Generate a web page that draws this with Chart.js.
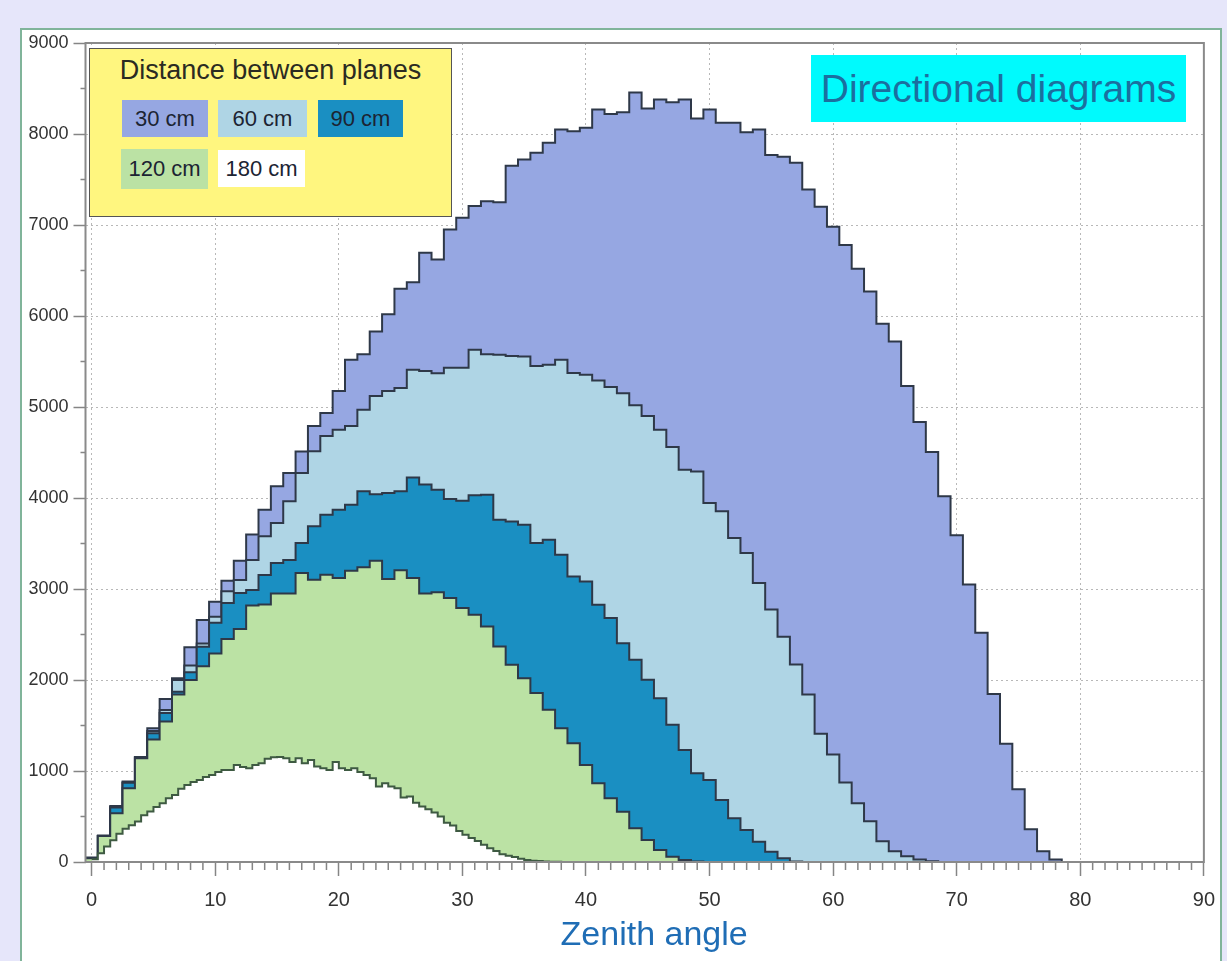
<!DOCTYPE html>
<html>
<head>
<meta charset="utf-8">
<script src="https://cdn.jsdelivr.net/npm/chart.js@4.4.1/dist/chart.umd.min.js"></script>
<style>
html,body{margin:0;padding:0;width:1227px;height:961px;overflow:hidden;background:#e6e6fa;font-family:"Liberation Sans",Arial,sans-serif;}
#panel{position:absolute;left:20px;top:28px;width:1198px;height:960px;background:#fff;border:2px solid #80b49a;}
#c{position:absolute;left:0;top:0;}
#legend{position:absolute;left:89px;top:48px;width:361px;height:167px;background:#fff67f;border:1px solid #555;z-index:2;}
#legend .ttl{position:absolute;left:0;top:5px;width:100%;text-align:center;font-size:27px;line-height:32px;color:#2b2b22;white-space:nowrap;}
#legend .item{position:absolute;text-align:center;font-size:22px;color:#1c2433;white-space:nowrap;}
#dirbox{position:absolute;left:811px;top:55px;width:375px;height:67px;background:#00fafd;color:#1b6f9f;font-size:39px;line-height:67px;text-align:center;z-index:2;white-space:nowrap;}
</style>
</head>
<body>
<div id="panel"></div>
<canvas id="c" width="1227" height="961"></canvas>
<div id="legend"><div class="ttl">Distance between planes</div></div>
<div id="dirbox">Directional diagrams</div>
<script>
// ---- data ----
const seriesLabels = ['30 cm', '60 cm', '90 cm', '120 cm', '180 cm'];
const seriesColors = ['#96a7e2', '#afd5e5', '#1a8fc2', '#bbe2a4', '#ffffff'];
const binWidths   = [1, 1, 1, 1, 0.5];     // degrees per bin
const binStarts   = [-0.5, -0.5, -0.5, -0.5, 0]; // left edge of first bin

const counts30 = [50,290,615,885,1150,1470,1790,2020,2360,2660,
 2860,3090,3310,3600,3870,4130,4275,4510,4790,4935,
 5175,5520,5580,5830,6020,6300,6370,6695,6620,6950,
 7080,7210,7260,7250,7650,7720,7795,7905,8050,8030,
 8070,8270,8220,8240,8455,8280,8380,8350,8380,8170,
 8270,8125,8125,8020,8050,7770,7750,7685,7390,7200,
 6980,6780,6520,6270,5915,5720,5230,4835,4505,4020,
 3590,3050,2520,1845,1300,800,360,117,27,0];

const counts60 = [40,286,605,875,1150,1440,1670,2000,2160,2400,
 2695,2975,3100,3320,3580,3725,3965,4275,4515,4680,
 4750,4790,4970,5120,5175,5210,5410,5395,5370,5430,
 5430,5630,5580,5575,5560,5555,5450,5465,5520,5375,
 5355,5290,5220,5150,5020,4900,4750,4560,4310,4290,
 3945,3855,3560,3395,3065,2775,2475,2170,1840,1410,
 1180,875,645,447,227,117,64,27,8,0];

const counts90 = [40,286,600,870,1150,1415,1636,1870,2085,2365,
 2630,2845,2955,2990,3155,3285,3320,3505,3690,3815,
 3870,3925,4075,4040,4055,4075,4225,4147,4092,3990,
 3970,4030,4037,3762,3743,3707,3505,3542,3377,3138,
 3083,2827,2680,2405,2222,2002,1800,1507,1232,975,
 902,682,481,352,223,113,40,5,0];

const counts120 = [40,286,535,810,1140,1345,1545,1840,2000,2150,
 2290,2450,2560,2820,2830,2950,2950,3175,3102,3157,
 3120,3200,3240,3310,3110,3205,3120,2950,2965,2900,
 2790,2717,2588,2368,2167,2020,1856,1672,1470,1305,
 1067,865,700,553,370,242,132,58,22,5,0];

const counts180 = [30,95,170,240,310,365,405,445,515,555,
 605,645,700,735,805,845,880,900,935,955,
 990,1010,1010,1065,1045,1030,1065,1085,1135,1150,
 1155,1140,1100,1140,1085,1120,1050,1030,1010,1100,
 1030,1010,1030,990,955,920,830,865,830,810,
 710,720,650,610,580,545,500,430,400,340,
 300,265,230,190,150,120,85,70,55,35,
 22,15,10,6,3,2,0];

const xTicks = [0,10,20,30,40,50,60,70,80,90];
const yTicks = [0,1000,2000,3000,4000,5000,6000,7000,8000,9000];

const allCounts = [counts30, counts60, counts90, counts120, counts180];
const FONT = 'Liberation Sans';

// ---- legend (HTML, built from the series arrays) ----
const legendPos = [[32,51,86,37],[128,51,89,37],[228,51,85,37],[31,100,87,40],[128,101,87,37]];
const legendEl = document.getElementById('legend');
seriesLabels.forEach((lab, i) => {
  const d = document.createElement('div');
  d.className = 'item';
  const p = legendPos[i];
  d.style.left = p[0] + 'px'; d.style.top = p[1] + 'px';
  d.style.width = p[2] + 'px'; d.style.height = p[3] + 'px';
  d.style.lineHeight = p[3] + 'px';
  d.style.background = seriesColors[i];
  d.textContent = lab;
  legendEl.appendChild(d);
});

// ---- histogram outlines as step polylines ----
function stepPoints(values, start, width) {
  const pts = [];
  values.forEach((v, i) => {
    const l = start + i * width;
    pts.push({x: l, y: v}, {x: l + width, y: v});
  });
  return pts;
}

const n = seriesLabels.length;
const datasets = seriesLabels.map((lab, i) => ({
  label: lab,
  data: stepPoints(allCounts[i], binStarts[i], binWidths[i]),
  backgroundColor: seriesColors[i],
  borderColor: i === 4 ? '#3e5a42' : '#2e3848',
  borderWidth: 2,
  pointRadius: 0,
  tension: 0,
  fill: 'origin',
  order: n - i,
  borderJoinStyle: 'miter'
}));

// frame + minor ticks drawn through the chart's scales
const framePlugin = {
  id: 'rootFrame',
  afterDatasetsDraw(chart) {
    const {ctx, chartArea: a, scales: {x, y}} = chart;
    ctx.save();
    ctx.strokeStyle = '#858585';
    ctx.lineWidth = 1.5;
    ctx.beginPath();
    for (let v = 1; v < 90; v++) {
      if (v % 10 === 0) continue;
      const px = x.getPixelForValue(v);
      ctx.moveTo(px, a.bottom); ctx.lineTo(px, a.bottom + 8);
    }
    for (let v = 500; v < 9000; v += 1000) {
      const py = y.getPixelForValue(v);
      ctx.moveTo(a.left, py); ctx.lineTo(a.left - 5, py);
    }
    ctx.stroke();
    ctx.lineWidth = 2;
    ctx.strokeStyle = '#8a8a8a';
    ctx.strokeRect(a.left, a.top, a.right - a.left, a.bottom - a.top);
    ctx.restore();
  }
};

new Chart(document.getElementById('c'), {
  type: 'line',
  data: {datasets},
  options: {
    responsive: false,
    animation: false,
    devicePixelRatio: 1,
    layout: {padding: {left: 0, right: 13, top: 43, bottom: 0}},
    plugins: {legend: {display: false}, tooltip: {enabled: false}},
    scales: {
      x: {
        type: 'linear', min: -0.5, max: 90,
        afterBuildTicks: s => { s.ticks = xTicks.map(v => ({value: v})); },
        afterFit: s => { s.height = 99; },
        grid: {
          color: '#b8b8b8', lineWidth: 1,
          tickLength: 14, tickColor: '#858585', tickWidth: 1.5, tickBorderDash: []
        },
        border: {display: false, dash: [2, 3]},
        ticks: {
          font: {family: FONT, size: 20}, color: '#333', padding: 12,
          maxRotation: 0, autoSkip: false,
          callback: v => String(v)
        },
        title: {
          display: true, text: '  Zenith angle', color: '#1f6db5',
          font: {family: FONT, size: 34}, padding: {top: 0, bottom: 5}
        }
      },
      y: {
        type: 'linear', min: 0, max: 9000,
        afterBuildTicks: s => { s.ticks = yTicks.map(v => ({value: v})); },
        afterFit: s => { s.width = 85.5; },
        grid: {
          color: '#b8b8b8', lineWidth: 1,
          tickLength: 12, tickColor: '#858585', tickWidth: 1.5, tickBorderDash: []
        },
        border: {display: false, dash: [2, 3]},
        ticks: {font: {family: FONT, size: 18}, color: '#333', padding: 5,
                callback: v => String(v)}
      }
    }
  },
  plugins: [framePlugin]
});
</script>
</body>
</html>
